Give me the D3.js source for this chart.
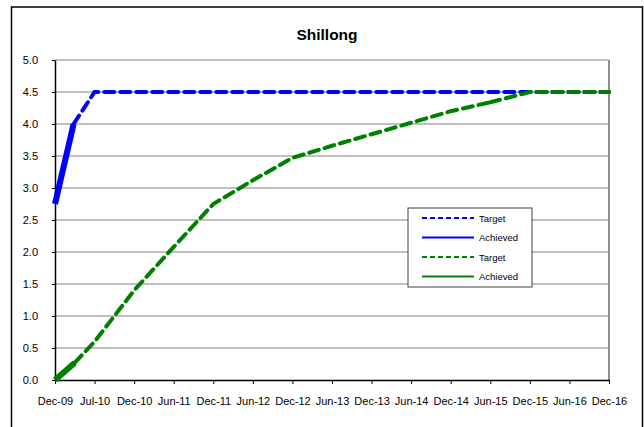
<!DOCTYPE html>
<html>
<head>
<meta charset="utf-8">
<script src="https://cdn.jsdelivr.net/npm/d3@7"></script>
<style>
  body { margin: 0; background: #fff; }
  text { font-family: "Liberation Sans", Arial, sans-serif; }
</style>
</head>
<body>
<svg id="chart" width="644" height="427"></svg>
<script>
// category labels along the x axis
const categories = ['Dec-09', 'Jul-10', 'Dec-10', 'Jun-11', 'Dec-11', 'Jun-12', 'Dec-12',
  'Jun-13', 'Dec-13', 'Jun-14', 'Dec-14', 'Jun-15', 'Dec-15', 'Jun-16', 'Dec-16']
const yTicks = [0, 0.5, 1, 1.5, 2, 2.5, 3, 3.5, 4, 4.5, 5]

// series: x is a category position (fractional = between two labels)
const blueAchievedX = [0, 0.47]
const blueAchievedY = [2.75, 4.0]
const blueTargetX = [0.47, 1, 2, 3, 4, 5, 6, 7, 8, 9, 10, 11, 12, 13, 14]
const blueTargetY = [4.0, 4.5, 4.5, 4.5, 4.5, 4.5, 4.5, 4.5, 4.5, 4.5, 4.5, 4.5, 4.5, 4.5, 4.5]
const greenAchievedX = [0, 0.5]
const greenAchievedY = [0, 0.27]
const greenTargetX = [0.5, 1, 1.65, 2, 3, 4, 5, 6, 7, 8, 9, 10, 11, 12, 13, 14]
const greenTargetY = [0.27, 0.6, 1.12, 1.4, 2.08, 2.75, 3.12, 3.47, 3.66, 3.84, 4.02, 4.2, 4.34, 4.5, 4.5, 4.5]

const legendItems = [
  { label: 'Target', color: '#0000ff', dash: true },
  { label: 'Achieved', color: '#0000ff', dash: false },
  { label: 'Target', color: '#008000', dash: true },
  { label: 'Achieved', color: '#008000', dash: false }
]

const margin = { left: 55, top: 60, right: 35, bottom: 47 }
const width = 644 - margin.left - margin.right
const height = 427 - margin.top - margin.bottom

const svg = d3.select('#chart')

// outer frame
svg.append('rect')
  .attr('x', 11.5).attr('y', 7)
  .attr('width', 631).attr('height', 440)
  .attr('fill', 'none')
  .attr('stroke', '#000')
  .attr('stroke-width', 1.5)

svg.append('text')
  .text('Shillong')
  .attr('x', 327).attr('y', 40)
  .attr('text-anchor', 'middle')
  .attr('font-size', 15.5)
  .attr('font-weight', 'bold')

const g = svg.append('g')
  .attr('transform', 'translate(' + margin.left + ',' + margin.top + ')')

const x = d3.scaleLinear().domain([0, categories.length - 1]).range([0, width])
const y = d3.scaleLinear().domain([0, 5]).range([height, 0])

// gridlines
g.append('g')
  .selectAll('line')
  .data(yTicks.filter(d => d > 0))
  .enter()
  .append('line')
  .attr('x1', 0).attr('x2', width)
  .attr('y1', d => y(d)).attr('y2', d => y(d))
  .attr('stroke', '#808080')
  .attr('stroke-width', 1.2)

// right border of the plot area
g.append('line')
  .attr('x1', width).attr('x2', width)
  .attr('y1', 0).attr('y2', height)
  .attr('stroke', '#909090')
  .attr('stroke-width', 2)

// y axis
const yAxis = g.append('g')
  .attr('class', 'y axis')
  .call(d3.axisLeft(y).tickValues(yTicks).tickFormat(d3.format('.1f')).tickSize(3).tickSizeOuter(0).tickPadding(14))
yAxis.select('.domain').attr('stroke', '#000').attr('stroke-width', 1.5)
yAxis.selectAll('text').attr('font-size', 11).attr('fill', '#000')

// x axis
const xAxis = g.append('g')
  .attr('class', 'x axis')
  .attr('transform', 'translate(0,' + height + ')')
  .call(d3.axisBottom(x).tickValues(d3.range(categories.length)).tickFormat(i => categories[i]).tickSize(4).tickSizeOuter(0).tickPadding(13))
xAxis.select('.domain').attr('stroke', '#000').attr('stroke-width', 1.5)
xAxis.selectAll('text').attr('font-size', 11).attr('fill', '#000')

const line = d3.line().x(d => x(d[0])).y(d => y(d[1]))

function drawSeries (xs, ys, color, dashed) {
  g.append('path')
    .datum(xs.map((v, i) => [v, ys[i]]))
    .attr('d', line)
    .attr('fill', 'none')
    .attr('stroke', color)
    .attr('stroke-width', dashed ? 4 : 6)
    .attr('stroke-dasharray', dashed ? '10,6' : null)
    .attr('stroke-linecap', dashed ? 'round' : 'butt')
}

drawSeries(blueTargetX, blueTargetY, '#0000ff', true)
drawSeries(blueAchievedX, blueAchievedY, '#0000ff', false)
drawSeries(greenTargetX.slice(0, 13), greenTargetY.slice(0, 13), '#008000', true)
drawSeries(greenTargetX.slice(12), greenTargetY.slice(12), '#008000', true)
drawSeries(greenAchievedX, greenAchievedY, '#008000', false)

// legend
const legend = svg.append('g').attr('transform', 'translate(408,208)')
legend.append('rect')
  .attr('width', 124).attr('height', 79)
  .attr('fill', '#fff')
  .attr('stroke', '#404040')
  .attr('stroke-width', 1)

const item = legend.selectAll('.item')
  .data(legendItems)
  .enter()
  .append('g')
  .attr('class', 'item')
  .attr('transform', (d, i) => 'translate(0,' + (10 + i * 19.5) + ')')

item.append('line')
  .attr('x1', 14).attr('x2', 66)
  .attr('stroke', d => d.color)
  .attr('stroke-width', 2)
  .attr('stroke-dasharray', d => d.dash ? '5,3' : null)

item.append('text')
  .text(d => d.label)
  .attr('x', 71).attr('y', 3.5)
  .attr('font-size', 9.5)
  .attr('fill', '#000')
</script>
</body>
</html>
